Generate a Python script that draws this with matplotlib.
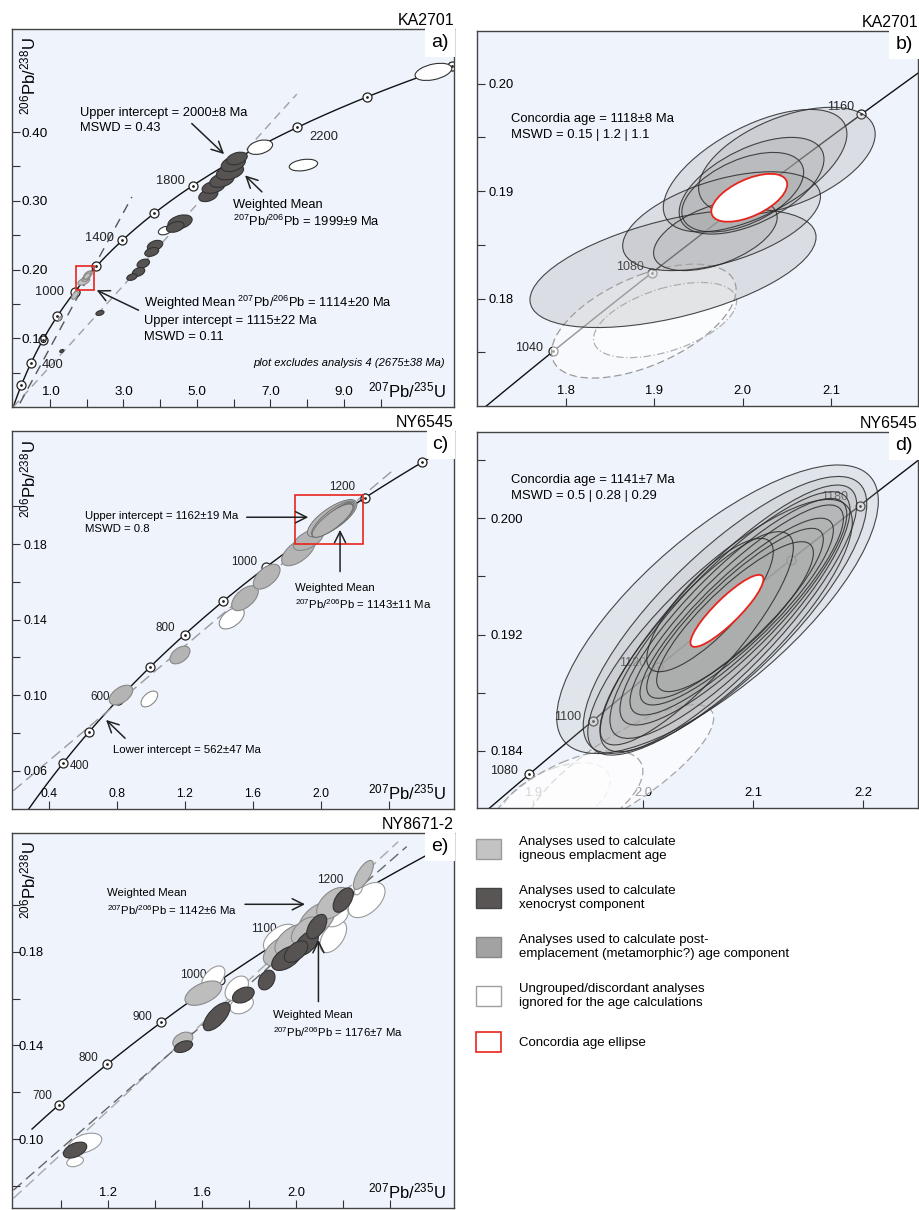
import numpy as np
import matplotlib
matplotlib.use("Agg")
import matplotlib.pyplot as plt
from matplotlib import font_manager
from matplotlib.patches import Ellipse, Rectangle, Patch

installed = {f.name for f in font_manager.fontManager.ttflist}
FONT = "Liberation Sans Narrow" if "Liberation Sans Narrow" in installed else "Liberation Sans"
plt.rcParams["font.family"] = [FONT, "DejaVu Sans"]
plt.rcParams["mathtext.fontset"] = "custom"
plt.rcParams["mathtext.rm"] = FONT
plt.rcParams["mathtext.it"] = FONT + ":italic"

# decay constants, per Myr
L235 = 9.8485e-4
L238 = 1.55125e-4

# ---- data -------------------------------------------------------------
# ellipses: (207Pb/235U, 206Pb/238U, 2s half-width x, 2s half-width y, rho)
a_marks = [200, 400, 600, 800, 1000, 1200, 1400, 1600, 1800, 2000, 2200, 2400, 2600]
a_labels = [400, 1000, 1400, 1800, 2200]
a_xeno = [
    (5.31, 0.308, 0.26, 0.0092, 0.35), (5.45, 0.320, 0.31, 0.0092, 0.35),
    (5.68, 0.330, 0.33, 0.0105, 0.35), (5.90, 0.342, 0.37, 0.0115, 0.35),
    (5.99, 0.354, 0.33, 0.0115, 0.35), (6.09, 0.3616, 0.28, 0.0092, 0.35),
    (4.54, 0.269, 0.33, 0.0105, 0.35), (4.41, 0.262, 0.24, 0.0078, 0.35),
    (3.86, 0.235, 0.21, 0.0075, 0.35), (3.77, 0.2256, 0.19, 0.0065, 0.35),
    (3.54, 0.2087, 0.17, 0.0065, 0.35), (3.41, 0.1965, 0.17, 0.0065, 0.35),
    (3.23, 0.189, 0.14, 0.0048, 0.35), (2.36, 0.1368, 0.11, 0.0036, 0.35),
    (1.32, 0.0815, 0.055, 0.0022, 0.35),
]
a_ung = [
    (11.44, 0.4876, 0.50, 0.0125, 0.4), (6.72, 0.378, 0.34, 0.0105, 0.35),
    (7.90, 0.352, 0.386, 0.0085, 0.3), (4.13, 0.2567, 0.18, 0.0062, 0.35),
]
a_ign = [(1.68, 0.1626, 0.09, 0.006, 0.6), (1.27, 0.1287, 0.04, 0.003, 0.6)]

b_marks = [1040, 1080, 1120, 1160]
b_labels = [1040, 1080, 1160]
b_ign = [
    (1.921, 0.1828, 0.162, 0.0055, 0.53), (1.976, 0.1872, 0.112, 0.0046, 0.5),
    (1.969, 0.1859, 0.070, 0.0033, 0.5), (2.050, 0.1928, 0.100, 0.0050, 0.5),
    (2.014, 0.1919, 0.104, 0.0057, 0.6), (2.000, 0.1899, 0.069, 0.0037, 0.5),
    (2.010, 0.1905, 0.082, 0.0045, 0.55),
]
b_ung = [(1.888, 0.1779, 0.1045, 0.0053, 0.55), (1.912, 0.1780, 0.081, 0.0035, 0.5)]
b_age, b_err = 1118, (0.043, 0.00223, 0.56)

c_marks = [400, 500, 600, 700, 800, 900, 1000, 1100, 1200, 1300]
c_labels = [400, 600, 800, 1000, 1200]
c_ign = [
    (0.824, 0.1001, 0.069, 0.0052, 0.5), (1.171, 0.1213, 0.059, 0.0047, 0.45),
    (1.554, 0.1514, 0.0785, 0.0066, 0.55), (1.682, 0.1628, 0.0785, 0.0066, 0.55),
    (1.868, 0.1761, 0.098, 0.0075, 0.6), (1.927, 0.1823, 0.088, 0.0056, 0.55),
]
c_ung = [(0.991, 0.0980, 0.049, 0.0042, 0.5), (1.476, 0.1408, 0.0736, 0.0057, 0.5)]
c_intercepts = (562, 1162)

d_marks = [1080, 1100, 1120, 1140, 1160, 1180]
d_labels = [1080, 1100, 1120, 1180]
d_ign = [
    (2.0677, 0.19374, 0.1459, 0.00993, 0.75), (2.0745, 0.19335, 0.1286, 0.00953, 0.80),
    (2.0776, 0.19311, 0.1164, 0.00918, 0.85), (2.0790, 0.19334, 0.1089, 0.00849, 0.85),
    (2.0821, 0.19357, 0.1029, 0.00780, 0.86), (2.0851, 0.19369, 0.0968, 0.00723, 0.87),
    (2.0851, 0.19358, 0.0877, 0.00643, 0.87), (2.0836, 0.19346, 0.0801, 0.00585, 0.87),
    (2.0609, 0.19403, 0.0574, 0.00459, 0.80), (2.0836, 0.19323, 0.0711, 0.00516, 0.85),
    (2.0488, 0.19174, 0.0877, 0.00734, 0.85), (2.0700, 0.19250, 0.1200, 0.00880, 0.82),
]
d_ung = [
    (1.9202, 0.18067, 0.050, 0.0025, 0.5), (1.9792, 0.18257, 0.085, 0.0046, 0.8),
    (1.930, 0.1805, 0.070, 0.0035, 0.6),
]
d_age, d_err = 1141, (0.0331, 0.00248, 0.88)

e_span = (640, 1400)
e_marks = [700, 800, 900, 1000, 1100, 1200, 1300]
e_labels = [700, 800, 900, 1000, 1100, 1200]
e_xeno = [
    (1.0611, 0.0954, 0.0496, 0.0034, 0.45), (1.5214, 0.1395, 0.039, 0.0025, 0.4),
    (1.663, 0.1523, 0.0566, 0.0060, 0.65), (1.776, 0.1615, 0.046, 0.0034, 0.35),
    (1.875, 0.1679, 0.0354, 0.0042, 0.3), (1.960, 0.1772, 0.0637, 0.0052, 0.5),
    (2.045, 0.1836, 0.0496, 0.0052, 0.5), (2.088, 0.1907, 0.0425, 0.0052, 0.5),
    (2.200, 0.2020, 0.0425, 0.0052, 0.5), (2.000, 0.1800, 0.050, 0.0046, 0.5),
]
e_ign = [
    (1.5186, 0.1423, 0.0425, 0.0034, 0.35), (1.606, 0.1623, 0.078, 0.0052, 0.5),
    (1.946, 0.1807, 0.085, 0.0068, 0.5), (1.988, 0.1850, 0.078, 0.0068, 0.5),
    (2.088, 0.1935, 0.078, 0.0075, 0.5), (2.158, 0.2006, 0.0708, 0.0068, 0.5),
    (2.286, 0.2127, 0.0425, 0.0062, 0.7), (2.040, 0.1890, 0.060, 0.0058, 0.5),
]
e_ung = [
    (1.1036, 0.0983, 0.0708, 0.0043, 0.4), (1.0611, 0.0905, 0.0354, 0.0022, 0.3),
    (1.648, 0.1687, 0.0496, 0.0052, 0.5), (1.748, 0.1644, 0.0496, 0.0052, 0.4),
    (1.769, 0.1573, 0.0496, 0.0038, 0.3), (1.932, 0.1857, 0.0708, 0.0060, 0.5),
    (2.158, 0.1864, 0.0566, 0.0068, 0.5), (2.172, 0.1949, 0.0496, 0.0043, 0.4),
    (2.300, 0.2020, 0.078, 0.0075, 0.5), (2.265, 0.2070, 0.018, 0.0028, 0.4),
]
a_disc_1115 = (0.18, 0.0054, 3.23, 0.3057)
e_disc = [(0.799, 0.0748, 2.434, 0.2269), (0.799, 0.0783, 2.470, 0.2248)]

legend_labels = [
    "Analyses used to calculate\nigneous emplacment age",
    "Analyses used to calculate\nxenocryst component",
    "Analyses used to calculate post-\nemplacement (metamorphic?) age component",
    "Ungrouped/discordant analyses\nignored for the age calculations",
    "Concordia age ellipse",
]

# ---- styles -----------------------------------------------------------
BG = "#eef3fc"
IGN = dict(fc="#c3c3c3", ec="#8a8a8a", lw=0.8)
XEN = dict(fc="#575353", ec="#333333", lw=0.8)
UNG = dict(fc="white", ec="#333333", lw=0.8)
XLAB = r"$\mathrm{^{207}Pb/^{235}U}$"
YLAB = r"$\mathrm{^{206}Pb/^{238}U}$"


def concordia(t):
    t = np.asarray(t, dtype=float)
    return np.expm1(L235 * t), np.expm1(L238 * t)


def add_ellipse(ax, x, y, sx, sy, rho, **kw):
    cov = np.array([[sx * sx, rho * sx * sy], [rho * sx * sy, sy * sy]])
    vals, vecs = np.linalg.eigh(cov)
    ang = np.degrees(np.arctan2(vecs[1, 1], vecs[0, 1]))
    ax.add_patch(Ellipse((x, y), 2 * np.sqrt(vals[1]), 2 * np.sqrt(vals[0]),
                         angle=ang, **kw))


def ellipses(ax, rows, z=2, **kw):
    for r in rows:
        add_ellipse(ax, *r, zorder=z, **kw)


def frame(ax, xlim, ylim, xt, xtl, yt, ytl, xm, ym, ypad, size=10, tlen=6):
    ax.set_facecolor(BG)
    ax.set_xlim(xlim)
    ax.set_ylim(ylim)
    ax.set_xticks(xt, labels=xtl)
    ax.set_yticks(yt, labels=ytl)
    ax.set_xticks(xm, minor=True)
    ax.set_yticks(ym, minor=True)
    ax.tick_params(which="both", direction="in", length=tlen, width=0.8, color="#333")
    ax.tick_params(axis="x", pad=-6.5, labelsize=size)
    ax.tick_params(axis="y", pad=ypad, labelsize=size)
    plt.setp(ax.get_xticklabels(), va="bottom")
    plt.setp(ax.get_yticklabels(), ha="left")
    for s in ax.spines.values():
        s.set_color("#444")
        s.set_linewidth(1.0)


def curve(ax, marks, labels, offsets, size=10, span=(0, 3000)):
    t = np.linspace(span[0], span[1], 3001)
    cx, cy = concordia(t)
    ax.plot(cx, cy, color="#111", lw=1.0, zorder=1)
    mx, my = concordia(marks)
    ax.plot(mx, my, "o", ms=6.5, mfc="white", mec="#222", mew=0.9, zorder=1.5)
    ax.plot(mx, my, ".", ms=2.0, color="#222", zorder=1.6)
    for age, (dx, dy) in zip(labels, offsets):
        x, y = concordia(age)
        ax.annotate(str(age), (x, y), xytext=(dx, dy), textcoords="offset points",
                    ha="left" if dx > 0 else "right", va="center", fontsize=size,
                    color="#222", zorder=1.6)


def tag(ax, title, letter, ylab=True, xlab=True, ytop=0.979):
    ax.set_title(title, loc="right", fontsize=11.5, pad=3)
    ax.text(0.988, 0.986, letter, transform=ax.transAxes, ha="right", va="top",
            fontsize=14, zorder=6,
            bbox=dict(boxstyle="square,pad=0.3", fc="white", ec="none"))
    if ylab:
        ax.text(0.038, ytop, YLAB, transform=ax.transAxes, rotation=90,
                ha="center", va="top", fontsize=12, zorder=6)
    if xlab:
        ax.text(0.98, 0.045, XLAB, transform=ax.transAxes, ha="right",
                va="center", fontsize=12, zorder=6)


def arrow(ax, tail, tip):
    ax.annotate("", xy=tip, xytext=tail, zorder=5,
                arrowprops=dict(arrowstyle="->", lw=1.1, color="#222",
                                mutation_scale=20, shrinkA=0, shrinkB=0))


def intercept_line(ax, ages, xr, **kw):
    (x0, x1), (y0, y1) = concordia(ages)
    k = (y1 - y0) / (x1 - x0)
    xs = np.array(xr)
    ax.plot(xs, y0 + k * (xs - x0), **kw)


fig = plt.figure(figsize=(9.2, 12.1), dpi=100)
W, H = 920, 1210

# ---- a) KA2701 overview ------------------------------------------------
ax = fig.add_axes([12 / W, 803 / H, 442 / W, 378 / H])
frame(ax, (-0.035, 12.0), (0.0, 0.55),
      [1, 3, 5, 7, 9], ["1.0", "3.0", "5.0", "7.0", "9.0"],
      [0.1, 0.2, 0.3, 0.4], ["0.10", "0.20", "0.30", "0.40"],
      [2, 4, 6, 8, 10], [0.05, 0.15, 0.25, 0.35], ypad=-7, size=9.7)
curve(ax, a_marks, a_labels, [(8, -1.5), (-8, 0), (-6, 2), (-6, 3), (9, -7)], size=9.3)
intercept_line(ax, (0, 2000), (0.0, 7.72), color="#a0a0a0", lw=1.0, ls=(0, (6, 4)), zorder=1)
ax.plot(a_disc_1115[0::2], a_disc_1115[1::2], color="#555", lw=1.0, ls=(0, (7, 5)), zorder=1)
ellipses(ax, a_ung, **UNG)
ellipses(ax, a_xeno, **XEN)
ellipses(ax, a_ign, **IGN)
ellipses(ax, b_ign, **IGN)
bx, by = (1.699, 2.1985), (0.170, 0.2049)
ax.add_patch(Rectangle((bx[0], by[0]), bx[1] - bx[0], by[1] - by[0], fill=False,
                       ec="#e8251c", lw=1.2, zorder=4))
fs = 9.3
ax.text(1.82, 0.436, "Upper intercept = 2000±8 Ma\nMSWD = 0.43", fontsize=fs,
        va="top", linespacing=1.35, zorder=5)
arrow(ax, (4.86, 0.4125), (5.74, 0.368))
ax.text(5.99, 0.3033, "Weighted Mean\n$^{207}$Pb/$^{206}$Pb = 1999±9 Ma", fontsize=fs,
        va="top", linespacing=1.3, zorder=5)
arrow(ax, (6.77, 0.313), (6.31, 0.337))
ax.text(3.56, 0.165, "Weighted Mean $^{207}$Pb/$^{206}$Pb = 1114±20 Ma\n"
        "Upper intercept = 1115±22 Ma\nMSWD = 0.11", fontsize=fs, va="top",
        linespacing=1.4, zorder=5)
arrow(ax, (3.41, 0.1408), (2.27, 0.170))
ax.text(11.76, 0.064, "plot excludes analysis 4 (2675±38 Ma)", style="italic",
        fontsize=8, ha="right", va="center", zorder=5)
tag(ax, "KA2701", "a)")

# ---- b) KA2701 detail ------------------------------------------------
ax = fig.add_axes([477 / W, 804 / H, 441 / W, 375 / H])
frame(ax, bx, by, [1.8, 1.9, 2.0, 2.1], ["1.8", "1.9", "2.0", "2.1"],
      [0.18, 0.19, 0.20], ["0.18", "0.19", "0.20"],
      [], [0.175, 0.185, 0.195], ypad=-8.5, size=9.3)
curve(ax, b_marks, b_labels, [(-7, 2.5), (-5.5, 4), (-5.5, 5.5)], size=9)
for r in b_ung:
    add_ellipse(ax, *r, fc="white", alpha=0.55, ec="none", zorder=2)
add_ellipse(ax, *b_ung[0], fill=False, ec="#9a9a9a", lw=0.9, ls=(0, (6, 3)), zorder=2)
add_ellipse(ax, *b_ung[1], fill=False, ec="#b0b0b0", lw=0.9, ls=(0, (6, 2, 1, 2)), zorder=2)
for r in b_ign:
    add_ellipse(ax, *r, fc="#a8a8a8", alpha=0.28, ec="none", zorder=2)
    add_ellipse(ax, *r, fill=False, ec="#2a2a2a", lw=0.8, alpha=0.85, zorder=2.1)
add_ellipse(ax, *concordia(b_age), *b_err, fc="white", ec="#e8251c", lw=1.3, zorder=3)
ax.text(1.7374, 0.19726, "Concordia age = 1118±8 Ma\nMSWD = 0.15 | 1.2 | 1.1",
        fontsize=9.4, va="top", linespacing=1.4, zorder=5)
tag(ax, "KA2701", "b)", ylab=False, xlab=False)

# ---- c) NY6545 overview ------------------------------------------------
ax = fig.add_axes([12 / W, 401 / H, 442 / W, 378 / H])
frame(ax, (0.182, 2.785), (0.0397, 0.24),
      [0.4, 0.8, 1.2, 1.6, 2.0], ["0.4", "0.8", "1.2", "1.6", "2.0"],
      [0.06, 0.10, 0.14, 0.18], ["0.06", "0.10", "0.14", "0.18"],
      [2.4], [0.08, 0.12, 0.16, 0.20], ypad=-8, size=8.7)
curve(ax, c_marks, c_labels, [(5, -2), (-6, 2), (-7, 5), (-6.5, 3.5), (-7, 8)], size=8.4)
intercept_line(ax, c_intercepts, (0.19, 2.438), color="#9a9a9a", lw=1.0,
               ls=(0, (8, 4)), zorder=1)
ellipses(ax, c_ung, fc="white", ec="#8a8a8a", lw=0.8)
ellipses(ax, c_ign, fc="#b4b4b4", ec="#888888", lw=0.8)
ellipses(ax, d_ign, fc="#b4b4b4", ec="#6a6a6a", lw=0.6)
dx, dy = (1.8495, 2.2496), (0.18006, 0.20594)
ax.add_patch(Rectangle((dx[0], dy[0]), dx[1] - dx[0], dy[1] - dy[0], fill=False,
                       ec="#e8251c", lw=1.2, zorder=4))
fs = 8.2
ax.text(0.612, 0.1977, "Upper intercept = 1162±19 Ma\nMSWD = 0.8", fontsize=fs,
        va="top", linespacing=1.4, zorder=5)
arrow(ax, (1.564, 0.1943), (1.927, 0.1943))
ax.text(1.849, 0.1593, "Weighted Mean\n$^{207}$Pb/$^{206}$Pb = 1143±11 Ma", fontsize=fs,
        va="top", linespacing=1.35, zorder=5)
arrow(ax, (2.114, 0.1655), (2.114, 0.1876))
ax.text(0.779, 0.0710, "Lower intercept = 562±47 Ma", fontsize=fs, va="center", zorder=5)
arrow(ax, (0.848, 0.0772), (0.736, 0.0869))
tag(ax, "NY6545", "c)", ytop=0.976)

# ---- d) NY6545 detail ------------------------------------------------
ax = fig.add_axes([477 / W, 402 / H, 441 / W, 376 / H])
frame(ax, dx, dy, [1.9, 2.0, 2.1, 2.2], ["1.9", "2.0", "2.1", "2.2"],
      [0.184, 0.192, 0.200], ["0.184", "0.192", "0.200"],
      [], [0.188, 0.196, 0.204], ypad=-9.5, size=9.4)
curve(ax, d_marks, d_labels, [(-8, 2), (-8, 3), (-8, 3), (-8.5, 6)], size=9)
for r in d_ung:
    add_ellipse(ax, *r, fc="white", alpha=0.6, ec="none", zorder=2)
    add_ellipse(ax, *r, fill=False, ec="#a5a5a5", lw=0.9, ls=(0, (6, 3)), zorder=2)
for r in d_ign:
    add_ellipse(ax, *r, fc="#a8a8a8", alpha=0.2, ec="none", zorder=2)
    add_ellipse(ax, *r, fill=False, ec="#2a2a2a", lw=0.8, alpha=0.85, zorder=2.1)
add_ellipse(ax, *concordia(d_age), *d_err, fc="white", ec="#e8251c", lw=1.3, zorder=3)
ax.text(1.880, 0.20303, "Concordia age = 1141±7 Ma\nMSWD = 0.5 | 0.28 | 0.29",
        fontsize=9.4, va="top", linespacing=1.4, zorder=5)
tag(ax, "NY6545", "d)", ylab=False, xlab=False)

# ---- e) NY8671-2 -----------------------------------------------------
ax = fig.add_axes([12 / W, 2 / H, 442 / W, 375 / H])
frame(ax, (0.793, 2.671), (0.0707, 0.2306),
      [1.2, 1.6, 2.0], ["1.2", "1.6", "2.0"],
      [0.10, 0.14, 0.18], ["0.10", "0.14", "0.18"],
      [1.0, 1.4, 1.8, 2.2, 2.4], [0.08, 0.12, 0.16, 0.20], ypad=-4.5, size=9.3)
curve(ax, e_marks, e_labels,
      [(-5, 6.5), (-7, 4.5), (-6.5, 4), (-9.5, 3.5), (-6, 6), (-10, 10)],
      size=8.5, span=e_span)
ax.plot(e_disc[0][0::2], e_disc[0][1::2], color="#a8a8a8", lw=1.0, ls=(0, (8, 4)), zorder=1)
ax.plot(e_disc[1][0::2], e_disc[1][1::2], color="#666", lw=1.0, ls=(0, (8, 4)), zorder=1)
ellipses(ax, e_ung, fc="white", ec="#9a9a9a", lw=0.8)
ellipses(ax, e_ign, fc="#bdbdbd", ec="#8a8a8a", lw=0.8)
ellipses(ax, e_xeno, **XEN)
ax.text(1.196, 0.2070, "Weighted Mean\n$^{207}$Pb/$^{206}$Pb = 1142±6 Ma", fontsize=fs,
        va="top", linespacing=1.4, zorder=5)
arrow(ax, (1.783, 0.2002), (2.038, 0.2002))
ax.text(1.9035, 0.1551, "Weighted Mean\n$^{207}$Pb/$^{206}$Pb = 1176±7 Ma", fontsize=fs,
        va="top", linespacing=1.4, zorder=5)
arrow(ax, (2.095, 0.1587), (2.095, 0.185))
tag(ax, "NY8671-2", "e)", ytop=0.977)

# ---- legend ------------------------------------------------------------
handles = [
    Patch(fc="#c3c3c3", ec="#9a9a9a", lw=1.0),
    Patch(fc="#595555", ec="#444", lw=1.0),
    Patch(fc="#a2a2a2", ec="#888", lw=1.0),
    Patch(fc="white", ec="#a0a0a0", lw=1.0),
    Patch(fc="white", ec="#e8251c", lw=1.2),
]
fig.legend(handles, legend_labels, loc="upper left",
           bbox_to_anchor=(476 / W, 1 - 836 / H), frameon=False, fontsize=9.5,
           handlelength=1.9, handleheight=1.9, handletextpad=1.35,
           labelspacing=1.76, borderpad=0, borderaxespad=0)

fig.savefig("out.png", dpi=100)
